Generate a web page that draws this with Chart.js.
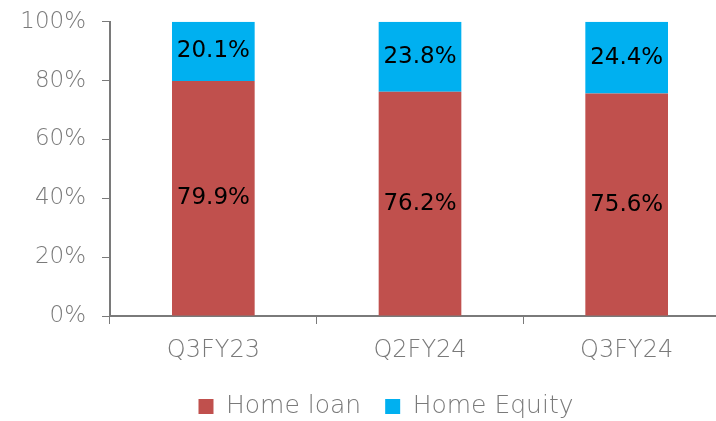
<!DOCTYPE html>
<html>
<head>
<meta charset="utf-8">
<script src="https://cdn.jsdelivr.net/npm/chart.js@4.4.1/dist/chart.umd.min.js"></script>
<style>
  html, body { margin: 0; padding: 0; background: #fff; overflow: hidden; }
  #wrap { width: 772px; height: 443px; margin-top: -8px; }
</style>
</head>
<body>
<div id="wrap"><canvas id="chart" width="772" height="443"></canvas></div>
<script>
// dati
var categories = ['Q3FY23', 'Q2FY24', 'Q3FY24'];
var homeLoan = [79.9, 76.2, 75.6];
var homeEquity = [20.1, 23.8, 24.4];
var yTicks = [0, 20, 40, 60, 80, 100];

var FONT = 'DejaVu Sans';
var GREY = '#7a7a7a';

// scrive le etichette al centro di ogni barra
var barLabels = {
  id: 'barLabels',
  afterDatasetsDraw: function (chart) {
    var ctx = chart.ctx;
    ctx.save();
    ctx.font = '23px "' + FONT + '"';
    ctx.fillStyle = '#000';
    ctx.textAlign = 'center';
    ctx.textBaseline = 'middle';
    chart.data.datasets.forEach(function (ds, i) {
      chart.getDatasetMeta(i).data.forEach(function (bar, j) {
        var mid = (bar.y + bar.base) / 2;
        ctx.fillText(ds.data[j].toFixed(1) + '%', bar.x, mid);
      });
    });
    ctx.restore();
  }
};

// sposta un po' la legenda a destra
var legendShift = {
  id: 'legendShift',
  afterLayout: function (chart) {
    chart.legend.left += 42;
  }
};

var chart = new Chart(document.getElementById('chart'), {
  type: 'bar',
  data: {
    labels: categories,
    datasets: [{
      label: 'Home loan',
      data: homeLoan,
      backgroundColor: '#C0504D',
      barPercentage: 0.4,
      categoryPercentage: 1
    }, {
      label: 'Home Equity',
      data: homeEquity,
      backgroundColor: '#00B0F0',
      barPercentage: 0.4,
      categoryPercentage: 1
    }]
  },
  options: {
    responsive: false,
    animation: false,
    layout: { padding: { top: 2, right: 42, left: 0, bottom: 6 } },
    scales: {
      x: {
        stacked: true,
        grid: { display: true, drawOnChartArea: false, drawTicks: true, tickLength: 8, color: GREY, offset: true },
        border: { display: true, color: GREY, width: 2 },
        ticks: { color: GREY, font: { family: FONT, size: 24, weight: 300 }, padding: 12 },
        afterFit: function (scale) { scale.height = 54; }
      },
      y: {
        stacked: true,
        min: 0,
        max: 100,
        afterBuildTicks: function (scale) {
          scale.ticks = yTicks.map(function (v) { return { value: v }; });
        },
        grid: { display: true, drawOnChartArea: false, drawTicks: true, tickLength: 8, color: GREY },
        border: { display: true, color: GREY, width: 2 },
        ticks: {
          color: GREY,
          font: { family: FONT, size: 23, weight: 300 },
          padding: 16,
          callback: function (v) { return v + '%'; }
        },
        afterFit: function (scale) { scale.width = 110; }
      }
    },
    plugins: {
      legend: {
        position: 'bottom',
        labels: {
          color: GREY,
          font: { family: FONT, size: 25, weight: 300 },
          boxWidth: 15,
          boxHeight: 15,
          padding: 24
        }
      },
      tooltip: { enabled: false }
    }
  },
  plugins: [barLabels, legendShift]
});
</script>
</body>
</html>
